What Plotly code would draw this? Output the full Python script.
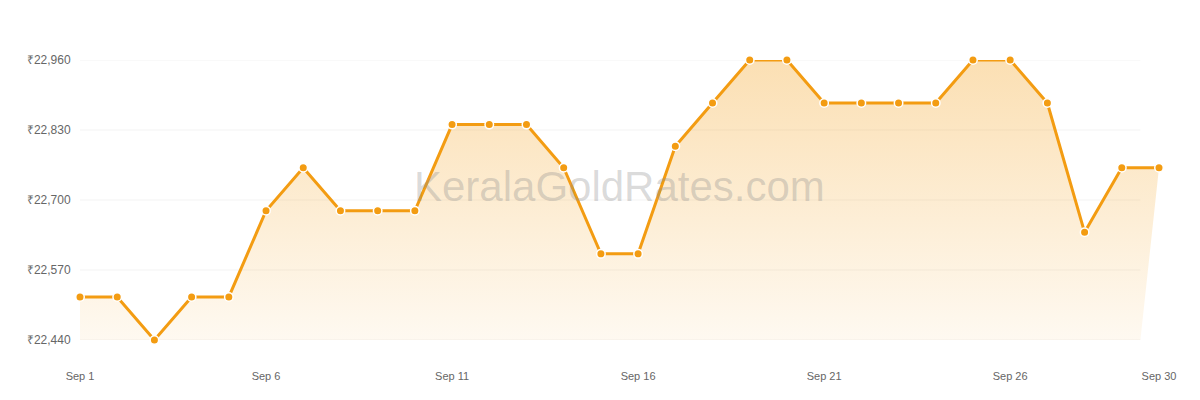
import plotly.graph_objects as go

dates = [f"2024-09-{d:02d}" for d in range(1, 31)]
prices = [22520, 22520, 22440, 22520, 22520, 22680, 22760, 22680, 22680, 22680,
          22840, 22840, 22840, 22760, 22600, 22600, 22800, 22880, 22960, 22960,
          22880, 22880, 22880, 22880, 22960, 22960, 22880, 22640, 22760, 22760]

tick_dates = ["2024-09-01", "2024-09-06", "2024-09-11", "2024-09-16",
              "2024-09-21", "2024-09-26", "2024-09-30"]
tick_text = ["Sep 1", "Sep 6", "Sep 11", "Sep 16", "Sep 21", "Sep 26", "Sep 30"]
y_ticks = [22440, 22570, 22700, 22830, 22960]
y_text = ["₹22,440", "₹22,570", "₹22,700", "₹22,830", "₹22,960"]

orange = "#f39c12"
grid_end = "2024-09-29 12:00"  # grid and fill stop short of the last point

fig = go.Figure()

# gradient fill under the line
fig.add_trace(go.Scatter(
    x=dates + [grid_end, dates[0]],
    y=prices + [y_ticks[0], y_ticks[0]],
    mode="none",
    fill="toself",
    fillgradient=dict(type="vertical",
                      colorscale=[[0, "rgba(243,156,18,0.06)"],
                                  [1, "rgba(243,156,18,0.32)"]],
                      start=y_ticks[0], stop=y_ticks[-1]),
    hoverinfo="skip",
    showlegend=False,
))

fig.add_trace(go.Scatter(
    x=dates, y=prices,
    mode="lines+markers",
    line=dict(color=orange, width=3),
    marker=dict(size=8.5, color=orange, line=dict(color="white", width=1.5)),
    cliponaxis=False,
    showlegend=False,
))

for t in y_ticks:
    fig.add_shape(type="line", xref="x", yref="y",
                  x0=dates[0], x1=grid_end, y0=t, y1=t,
                  line=dict(color="#f3f3f3", width=1), layer="below")

fig.add_annotation(
    text="KeralaGoldRates.com", xref="paper", yref="paper",
    x=0.5, y=0.55, showarrow=False,
    font=dict(size=42, color="rgba(140,140,140,0.33)", family="Liberation Sans, Arial"),
)

fig.update_xaxes(
    type="date", range=[dates[0], dates[-1]],
    tickvals=tick_dates, ticktext=tick_text,
    showgrid=False, zeroline=False, showline=False,
    ticks="outside", ticklen=26, tickcolor="rgba(0,0,0,0)",
    tickfont=dict(size=11, color="#666"),
)
fig.update_yaxes(
    range=[y_ticks[0], y_ticks[-1]],
    tickvals=y_ticks, ticktext=y_text,
    showgrid=False, zeroline=False, showline=False,
    ticks="outside", ticklen=6, tickcolor="rgba(0,0,0,0)",
    tickfont=dict(size=12, color="#666"),
)

# page draws the figure 8px in from the top-left, so margins are offset
fig.update_layout(
    width=1200, height=400,
    margin=dict(l=72, r=49, t=52, b=68),
    plot_bgcolor="white", paper_bgcolor="white",
    font=dict(family="Liberation Sans, Arial, sans-serif"),
    hovermode="x",
)

fig.write_html("out.html")
